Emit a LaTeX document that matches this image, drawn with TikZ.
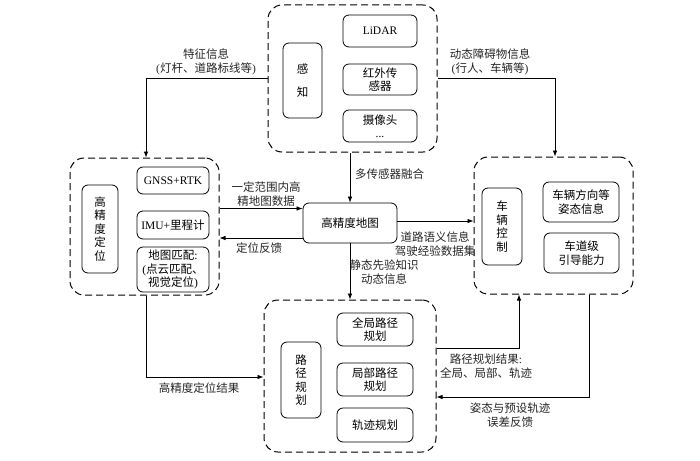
\documentclass[tikz,border=0pt]{standalone}
\usepackage{fontspec}
\setmainfont{Liberation Serif}
\newfontfamily\cjk{Noto Sans CJK SC}
\newfontfamily\latinf{Liberation Serif}
\newcommand\myL[1]{{\latinf #1}}
\usetikzlibrary{arrows.meta}
\begin{document}
\begin{tikzpicture}[x=1pt,y=-1pt,
  font=\cjk\fontsize{11.5}{13.5}\selectfont,
  cont/.style={draw, line width=1pt, dash pattern=on 7pt off 4pt, rounded corners=14pt, inner sep=0pt},
  box/.style={draw, line width=0.8pt, rounded corners=6pt, align=center, inner sep=0pt},
  arr/.style={-{Latex[length=6pt,width=4.5pt]}, line width=0.7pt},
  ln/.style={line width=0.7pt},
  lbl/.style={align=center, inner sep=0pt, text=black!85}]
\useasboundingbox (0,0) rectangle (700,460);

% containers
\node[cont, minimum width=169pt, minimum height=147pt] (top) at (352.5,78.5) {};
\node[cont, minimum width=149pt, minimum height=137pt] (left) at (144.5,226.5) {};
\node[cont, minimum width=159pt, minimum height=137pt] (right) at (553.5,225.5) {};
\node[cont, minimum width=172pt, minimum height=152pt] (bot) at (350,376) {};

% top inner
\node[box, minimum width=39pt, minimum height=75pt] (gz) at (302.5,80.5) {感\\[9pt]知};
\node[box, minimum width=74pt, minimum height=32pt] (lidar) at (380,31) {\myL{LiDAR}};
\node[box, minimum width=74pt, minimum height=31pt] (hw) at (380,79.5) {红外传\\感器};
\node[box, minimum width=74pt, minimum height=32pt] (cam) at (380,126) {摄像头\\\myL{...}};

% left inner
\node[box, minimum width=36pt, minimum height=88pt] (dw) at (100,229) {高\\精\\度\\定\\位};
\node[box, minimum width=72pt, minimum height=27pt] (gnss) at (173,180.5) {\myL{GNSS+RTK}};
\node[box, minimum width=72pt, minimum height=28pt] (imu) at (173,225) {\myL{IMU+}里程计};
\node[box, minimum width=72pt, minimum height=45pt] (match) at (173,269.5) {地图匹配\myL{:}\\\myL{(}点云匹配、\\视觉定位\myL{)}};

% right inner
\node[box, minimum width=40pt, minimum height=77pt] (ctrl) at (502,226.5) {车\\辆\\控\\制};
\node[box, minimum width=76pt, minimum height=40pt] (att) at (581,202) {车辆方向等\\姿态信息};
\node[box, minimum width=75pt, minimum height=40pt] (lane) at (581.5,253) {车道级\\引导能力};

% bottom inner
\node[box, minimum width=40pt, minimum height=76pt] (lg) at (301,380) {路\\径\\规\\划};
\node[box, minimum width=76pt, minimum height=33pt] (glob) at (375,329.5) {全局路径\\规划};
\node[box, minimum width=76pt, minimum height=33pt] (loc) at (375,379.5) {局部路径\\规划};
\node[box, minimum width=76pt, minimum height=34pt] (traj) at (375,425) {轨迹规划};

% map
\node[box, minimum width=94pt, minimum height=40pt] (map) at (350,223) {高精度地图};

% coordinates
\coordinate (c1) at (146,78);
\coordinate (c2) at (555,78);
\coordinate (c3) at (146,377);
\coordinate (c4) at (519,348);
\coordinate (c5) at (589,397);

% connectors
\draw[arr] (c1 -| top.west) -- (c1) -- (c1 |- left.north);
\draw[arr] (c2 -| top.east) -- (c2) -- (c2 |- right.north);
\draw[arr] (map.north |- top.south) -- (map.north);
\draw[arr] ([yshift=2pt]map.east) -- ([yshift=2pt]map.east -| right.west);
\draw[arr] (map.south) -- (map.south |- bot.north);
\draw[arr] ([yshift=-15pt]map.west) -- ([yshift=-15pt]map.west -| left.east);
\draw[arr] ([yshift=14.5pt]map.west -| left.east) -- ([yshift=14.5pt]map.west);
\draw[arr] (c3 |- left.south) -- (c3) -- (c3 -| bot.west);
\draw[arr] (c4 -| bot.east) -- (c4) -- (c4 |- right.south);
\draw[arr] (c5 |- right.south) -- (c5) -- (c5 -| bot.east);

% labels
\node[lbl] (l1) at (206,62) {特征信息\\\myL{(}灯杆、道路标线等\myL{)}};
\node[lbl] (l2) at (490,62) {动态障碍物信息\\\myL{(}行人、车辆等\myL{)}};
\node[lbl, anchor=west] (l3) at (355,174) {多传感器融合};
\node[lbl] (l4) at (435,244) {道路语义信息\\驾驶经验数据集};
\node[lbl] (l5) at (384,272) {静态先验知识\\动态信息};
\node[lbl] (l6) at (266,194) {一定范围内高\\精地图数据};
\node[lbl] (l7) at (259,248) {定位反馈};
\node[lbl] (l8) at (199,388) {高精度定位结果};
\node[lbl] (l9) at (486,366) {路径规划结果\myL{:}\\全局、局部、轨迹};
\node[lbl] (l10) at (510,415) {姿态与预设轨迹\\误差反馈};
\end{tikzpicture}
\end{document}
